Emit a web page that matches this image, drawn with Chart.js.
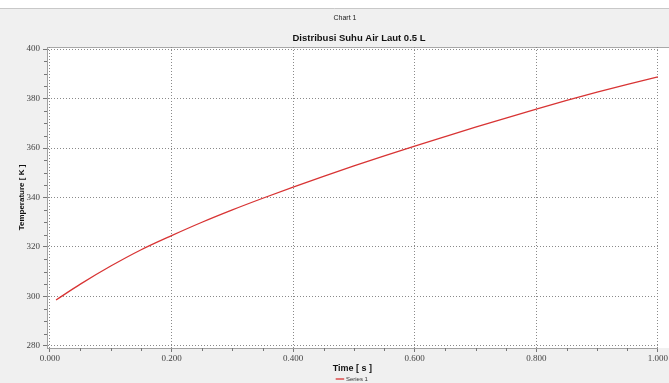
<!DOCTYPE html>
<html>
<head>
<meta charset="utf-8">
<script src="https://cdn.jsdelivr.net/npm/chart.js@4/dist/chart.umd.min.js"></script>
<style>
  html, body { margin:0; padding:0; background:#f0f0f0; overflow:hidden; }
  #wrap { position:relative; width:669px; height:383px; }
</style>
</head>
<body>
<div id="wrap"><canvas id="tempChart"></canvas></div>
<script>

// =========================
// Data : water temperature vs time
// =========================

const timeS = [0.01, 0.05, 0.10, 0.15, 0.20, 0.25, 0.30, 0.35, 0.40, 0.45,
               0.50, 0.55, 0.60, 0.65, 0.70, 0.75, 0.80, 0.85, 0.90, 0.95, 1.00];

const tempK = [298.6, 305.0, 312.3, 318.9, 324.6, 330.0, 335.0, 339.7, 344.2, 348.55,
               352.75, 356.8, 360.75, 364.6, 368.4, 372.1, 375.7, 379.2, 382.55, 385.7, 388.7];

const xTicks = [0, 0.2, 0.4, 0.6, 0.8, 1.0];
const yTicks = [280, 300, 320, 340, 360, 380, 400];

const chartLabel = "Chart 1";
const chartTitle = "Distribusi Suhu Air Laut 0.5 L";
const xTitle = "Time [ s ]";
const yTitle = "Temperature [ K ]";
const seriesName = "Series 1";

const lineRed = "#d83434";


// =========================
// Panel background, frame, minor ticks, headings
// =========================

const panelPlugin = {

    id:"panel",

    beforeDraw(chart){

        const {ctx, chartArea:a, width} = chart;

        ctx.save();

        ctx.fillStyle = "#f0f0f0";
        ctx.fillRect(0, 0, width, chart.height);

        ctx.fillStyle = "#ffffff";
        ctx.fillRect(0, 0, width, 8);

        ctx.strokeStyle = "#c8c8c8";
        ctx.beginPath();
        ctx.moveTo(0, 8.5);
        ctx.lineTo(width, 8.5);
        ctx.stroke();

        // plot background runs to the right edge
        ctx.fillStyle = "#ffffff";
        ctx.fillRect(a.left, a.top, width - a.left, a.bottom - a.top);

        ctx.strokeStyle = "#a8a8a8";
        ctx.beginPath();
        ctx.moveTo(a.left, a.top + 0.5);
        ctx.lineTo(width, a.top + 0.5);
        ctx.stroke();

        // headings
        ctx.fillStyle = "#222";
        ctx.textAlign = "center";
        ctx.textBaseline = "middle";
        ctx.font = "7px 'Liberation Sans'";
        ctx.fillText(chartLabel, 345, 18);

        ctx.fillStyle = "#111";
        ctx.font = "bold 9.5px 'Liberation Sans'";
        ctx.fillText(chartTitle, 359, 38);

        ctx.restore();

    },

    afterDraw(chart){

        const {ctx, scales} = chart;
        const xs = scales.x, ys = scales.y;

        ctx.save();
        ctx.strokeStyle = "#777";
        ctx.lineWidth = 1;
        ctx.beginPath();

        // minor x ticks every 0.05
        for(let i=1;i<20;i++){
            if(i%4===0) continue;
            const px = Math.round(xs.getPixelForValue(i*0.05)) + 0.5;
            ctx.moveTo(px, xs.top);
            ctx.lineTo(px, xs.top + 3);
        }

        // minor y ticks every 5
        for(let v=285; v<400; v+=5){
            if(v%20===0) continue;
            const py = Math.round(ys.getPixelForValue(v)) + 0.5;
            ctx.moveTo(ys.right - 3, py);
            ctx.lineTo(ys.right, py);
        }

        ctx.stroke();
        ctx.restore();

    }

};


// =========================
// Create Chart
// =========================

const ctx = document.getElementById("tempChart").getContext("2d");

const tickFont = { family:"'Liberation Serif'", size:9 };

const tempChart = new Chart(ctx, {

    type:"line",

    data:{

        datasets:[
            {
                label:seriesName,
                data:timeS.map((t,i)=>({x:t, y:tempK[i]})),
                borderColor:lineRed,
                backgroundColor:lineRed,
                borderWidth:1.3,
                pointRadius:0,
                cubicInterpolationMode:"monotone",
                fill:false
            }
        ]

    },

    options:{

        responsive:true,
        maintainAspectRatio:false,
        animation:false,

        layout:{
            padding:{ top:47, right:9, bottom:-9, left:0 }
        },

        plugins:{

            legend:{
                position:"bottom",
                fullSize:false,
                labels:{
                    usePointStyle:true,
                    pointStyle:"line",
                    boxWidth:10,
                    padding:0,
                    color:"#333",
                    font:{ family:"'Liberation Sans'", size:6 }
                }
            },

            tooltip:{ enabled:false }

        },

        scales:{

            x:{
                type:"linear",
                min:-0.0049,
                max:1.0,
                afterBuildTicks:(s)=>{ s.ticks = xTicks.map(v=>({value:v})); },
                afterFit:(s)=>{ s.height = 28; },
                ticks:{
                    color:"#444",
                    font:tickFont,
                    padding:1,
                    maxRotation:0,
                    callback:(v)=>Number(v).toFixed(3)
                },
                grid:{
                    color:"#8a8a8a",
                    tickColor:"#777",
                    tickLength:4
                },
                border:{ color:"#a0a0a0", width:1, dash:[1,2] },
                title:{
                    display:true,
                    text:xTitle,
                    color:"#111",
                    font:{ family:"'Liberation Sans'", size:9, weight:"bold" },
                    padding:{ top:0, bottom:2 }
                }
            },

            y:{
                type:"linear",
                min:279.19,
                max:400.81,
                afterBuildTicks:(s)=>{ s.ticks = yTicks.map(v=>({value:v})); },
                afterFit:(s)=>{ s.width = 47; },
                ticks:{
                    color:"#444",
                    font:tickFont,
                    padding:3
                },
                grid:{
                    color:"#8a8a8a",
                    tickColor:"#777",
                    tickLength:4
                },
                border:{ color:"#a0a0a0", width:1, dash:[1,2] },
                title:{
                    display:true,
                    text:yTitle,
                    color:"#111",
                    font:{ family:"'Liberation Sans'", size:8, weight:"bold" },
                    padding:{ top:17, bottom:0 }
                }
            }

        }

    },

    plugins:[panelPlugin]

});

</script>
</body>
</html>
